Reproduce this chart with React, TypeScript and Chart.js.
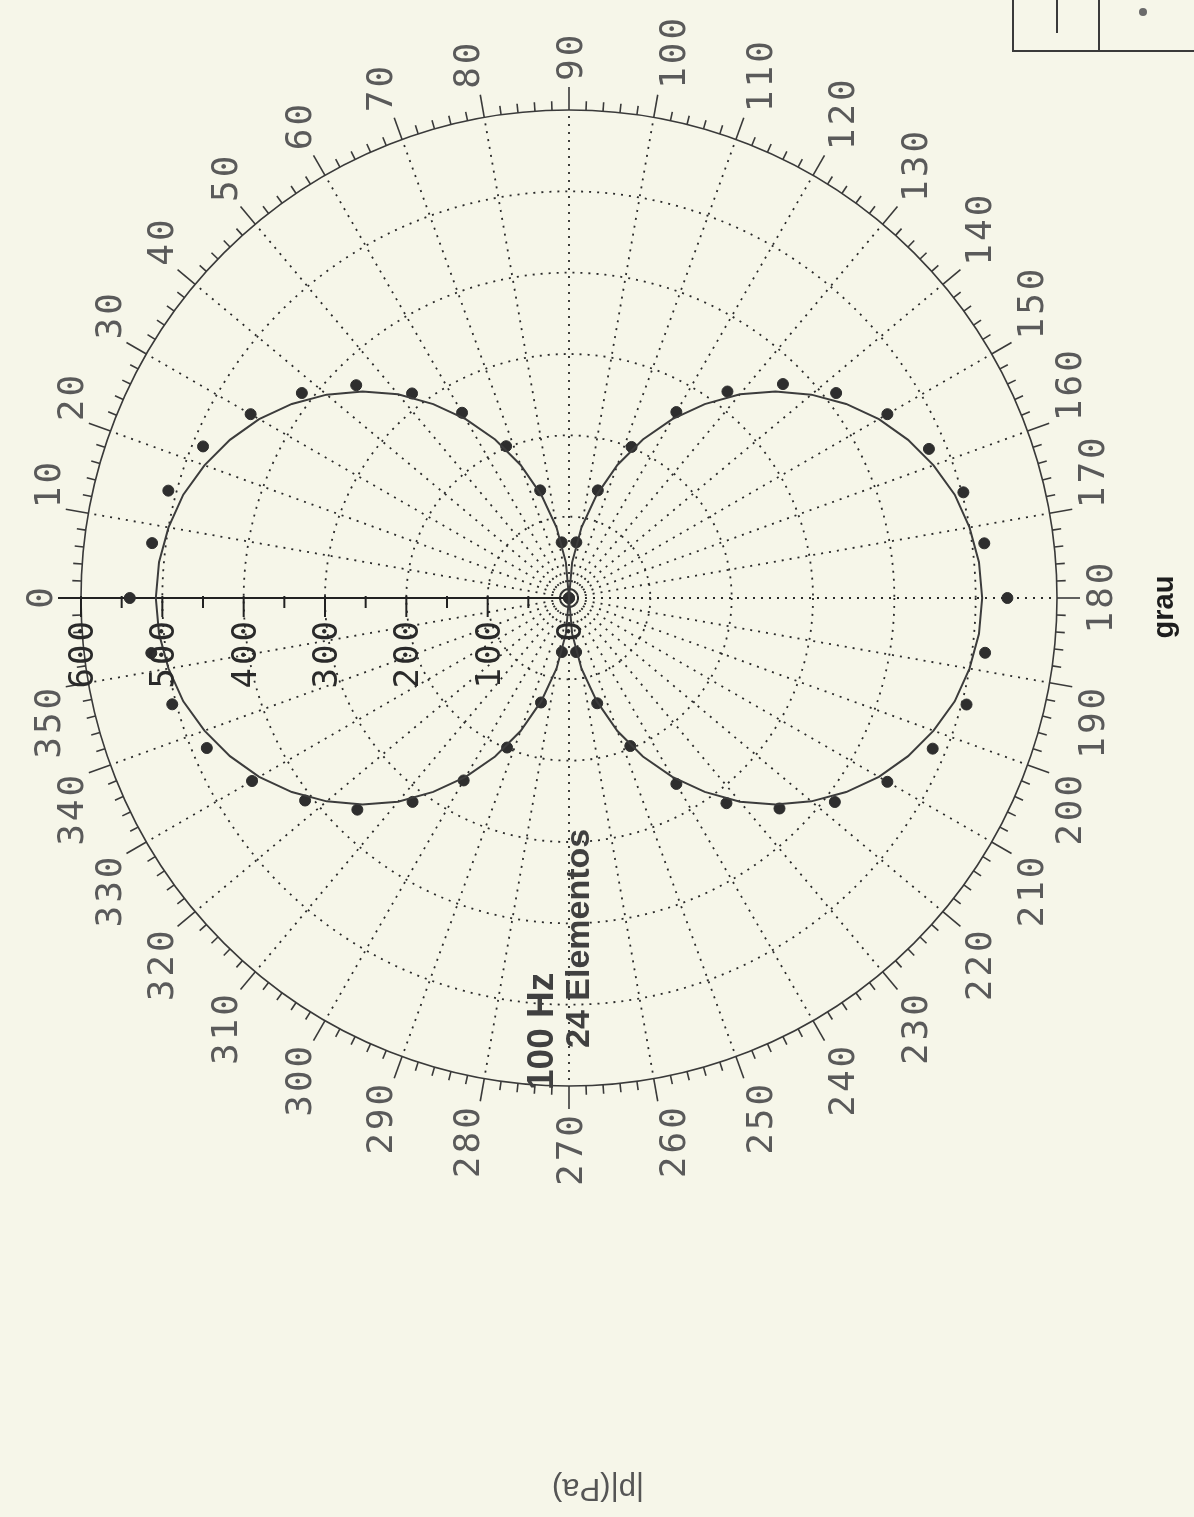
import { useEffect, useRef } from "react";
import { Chart, registerables } from "chart.js";

Chart.register(...registerables);

const PAGE_W = 1194;
const PAGE_H = 1517;

// Measured |p| (Pa), one reading every 7.5 degrees
const markerAngles = [
  0, 7.5, 15, 22.5, 30, 37.5, 45, 52.5, 60, 67.5, 75, 82.5,
  90, 97.5, 105, 112.5, 120, 127.5, 135, 142.5, 150, 157.5, 165, 172.5,
  180, 187.5, 195, 202.5, 210, 217.5, 225, 232.5, 240, 247.5, 255, 262.5,
  270, 277.5, 285, 292.5, 300, 307.5, 315, 322.5, 330, 337.5, 345, 352.5,
];
const markerValues = [
  540, 517, 510, 487, 452, 414, 370, 317, 263, 202, 137, 69,
  0, 69, 137, 201, 264, 320, 372, 414, 452, 479, 502, 515,
  539, 516, 506, 484, 452, 412, 366, 318, 264, 197, 134, 67,
  0, 67, 133, 199, 259, 316, 368, 409, 450, 482, 505, 518,
];

// Computed pattern, every 5 degrees
const curveAngles = [
  0, 5, 10, 15, 20, 25, 30, 35, 40, 45, 50, 55, 60, 65, 70, 75, 80, 85,
  90, 95, 100, 105, 110, 115, 120, 125, 130, 135, 140, 145, 150, 155, 160, 165, 170, 175,
  180, 185, 190, 195, 200, 205, 210, 215, 220, 225, 230, 235, 240, 245, 250, 255, 260, 265,
  270, 275, 280, 285, 290, 295, 300, 305, 310, 315, 320, 325, 330, 335, 340, 345, 350, 355,
  360,
];
const curveValues = [
  508, 506, 500, 491, 477, 460, 440, 416, 389, 359, 327, 291, 254, 215, 174, 131, 88, 44,
  0, 44, 88, 131, 174, 215, 254, 291, 327, 359, 389, 416, 440, 460, 477, 491, 500, 506,
  508, 506, 500, 491, 477, 460, 440, 416, 389, 359, 327, 291, 254, 215, 174, 131, 88, 44,
  0, 44, 88, 131, 174, 215, 254, 291, 327, 359, 389, 416, 440, 460, 477, 491, 500, 506,
  508,
];

const radialTicks = [0, 100, 200, 300, 400, 500, 600];
const radialLabels = ["0", "100", "200", "300", "400", "500", "600"];
const angleTicks = [
  0, 10, 20, 30, 40, 50, 60, 70, 80, 90, 100, 110, 120, 130, 140, 150, 160, 170,
  180, 190, 200, 210, 220, 230, 240, 250, 260, 270, 280, 290, 300, 310, 320, 330, 340, 350,
];
const infoLines = ["100 Hz", "24 Elementos"];
const angleTitle = "grau";
const radiusTitle = "|p|(Pa)";

const R_MAX = 600;
const BG = "#f6f6e9";
const INK = "#2e2e2e";
const LABEL_FONT = "'DejaVu Sans Mono', monospace";

const rad = (deg: number) => (deg * Math.PI) / 180;
// 0 deg points left, 90 deg up, angles grow clockwise on screen
const toPoint = (deg: number, value: number) => ({
  x: -value * Math.cos(rad(deg)),
  y: value * Math.sin(rad(deg)),
});

const polarFrame = {
  id: "polarFrame",
  beforeDraw(chart: any) {
    const ctx = chart.ctx as CanvasRenderingContext2D;
    ctx.save();
    ctx.fillStyle = BG;
    ctx.fillRect(0, 0, chart.width, chart.height);
    ctx.restore();
  },
  beforeDatasetsDraw(chart: any) {
    const ctx = chart.ctx as CanvasRenderingContext2D;
    const sx = chart.scales.x;
    const sy = chart.scales.y;
    const cx = sx.getPixelForValue(0);
    const cy = sy.getPixelForValue(0);
    const rp = (v: number) => sx.getPixelForValue(v) - cx;
    const at = (deg: number, r: number) => [cx - r * Math.cos(rad(deg)), cy - r * Math.sin(rad(deg))];
    const outer = rp(R_MAX);

    ctx.save();
    // dotted rings
    ctx.strokeStyle = "#2a2a2a";
    ctx.lineWidth = 1.8;
    ctx.setLineDash([2, 6]);
    for (const v of radialTicks) {
      if (v <= 0 || v >= R_MAX) continue;
      ctx.beginPath();
      ctx.arc(cx, cy, rp(v), 0, Math.PI * 2);
      ctx.stroke();
    }
    // dotted spokes
    for (const a of angleTicks) {
      if (a === 0) continue;
      const [x1, y1] = at(a, outer);
      ctx.beginPath();
      ctx.moveTo(cx, cy);
      ctx.lineTo(x1, y1);
      ctx.stroke();
    }
    ctx.setLineDash([]);

    // outer circle with degree ticks
    ctx.strokeStyle = "#3a3a3a";
    ctx.lineWidth = 1.6;
    ctx.beginPath();
    ctx.arc(cx, cy, outer, 0, Math.PI * 2);
    ctx.stroke();
    for (let a = 0; a < 360; a += 2) {
      const len = a % 10 === 0 ? 23 : 9;
      const [x0, y0] = at(a, outer);
      const [x1, y1] = at(a, outer + len);
      ctx.beginPath();
      ctx.moveTo(x0, y0);
      ctx.lineTo(x1, y1);
      ctx.stroke();
    }

    // radial axis along 0 deg
    ctx.strokeStyle = "#222";
    ctx.lineWidth = 2;
    const [ex, ey] = at(0, rp(R_MAX) + 23);
    ctx.beginPath();
    ctx.moveTo(cx, cy);
    ctx.lineTo(ex, ey);
    ctx.stroke();
    for (let i = 1; i < radialTicks.length; i++) {
      const major = radialTicks[i];
      const minor = (radialTicks[i] + radialTicks[i - 1]) / 2;
      for (const [v, len] of [[major, 19], [minor, 10]]) {
        const px = cx - rp(v);
        ctx.beginPath();
        ctx.moveTo(px, cy - 2);
        ctx.lineTo(px, cy + len);
        ctx.stroke();
      }
    }
    ctx.restore();
  },
  afterDatasetsDraw(chart: any) {
    const ctx = chart.ctx as CanvasRenderingContext2D;
    const sx = chart.scales.x;
    const sy = chart.scales.y;
    const cx = sx.getPixelForValue(0);
    const cy = sy.getPixelForValue(0);
    const rp = (v: number) => sx.getPixelForValue(v) - cx;
    const outer = rp(R_MAX);

    // the plot is laid on its side: text reads bottom-to-top
    ctx.save();
    ctx.translate(cx, cy);
    ctx.rotate(-Math.PI / 2);
    (ctx as any).letterSpacing = "3px";

    // angle labels, aligned the way a radial scale aligns its point labels
    const capH = 26;
    ctx.font = `36px ${LABEL_FONT}`;
    ctx.fillStyle = "#5a5a5a";
    ctx.textBaseline = "alphabetic";
    const rl = outer + 29;
    for (const a of angleTicks) {
      const s = Math.sin(rad(a));
      const c = Math.cos(rad(a));
      const txt = String(a);
      const w = ctx.measureText(txt).width - 3;
      const ax = rl * s;
      const ay = -rl * c;
      let left = ax;
      if (a === 0 || a === 180) left = ax - w / 2;
      else if (a > 180) left = ax - w;
      let top = ay;
      if (a === 90 || a === 270) top = ay - capH / 2;
      else if (a > 270 || a < 90) top = ay - capH;
      ctx.textAlign = "left";
      ctx.fillText(txt, left, top + capH);
    }

    // radial value labels beside the 0 deg axis
    ctx.font = `34px ${LABEL_FONT}`;
    ctx.fillStyle = "#2a2a2a";
    ctx.textAlign = "right";
    radialTicks.forEach((v, i) => {
      ctx.fillText(radialLabels[i], -20, -rp(v) + 12);
    });

    // annotation
    (ctx as any).letterSpacing = "0px";
    ctx.fillStyle = "#404040";
    ctx.textAlign = "left";
    ctx.font = "bold 37px 'Liberation Sans', Arial, sans-serif";
    ctx.fillText(infoLines[0], -492, -16);
    ctx.font = "bold 34px 'Liberation Sans', Arial, sans-serif";
    ctx.fillText(infoLines[1], -450, 20);

    // angle axis title
    ctx.font = "bold 29px 'Liberation Sans', Arial, sans-serif";
    ctx.fillStyle = "#1e1e1e";
    ctx.textAlign = "center";
    ctx.textBaseline = "middle";
    ctx.fillText(angleTitle, -9, 596);
    ctx.restore();

    // radius axis title, upside down at the foot of the page
    ctx.save();
    ctx.translate(598, 1488);
    ctx.rotate(Math.PI);
    ctx.font = "31px 'Liberation Sans', Arial, sans-serif";
    ctx.fillStyle = "#555";
    ctx.textAlign = "center";
    ctx.textBaseline = "middle";
    ctx.fillText(radiusTitle, 0, 0);
    ctx.restore();

    // legend box, partly off the page
    ctx.save();
    ctx.strokeStyle = "#3a3a3a";
    ctx.lineWidth = 2;
    ctx.strokeRect(1013, -10, 200, 61);
    ctx.beginPath();
    ctx.moveTo(1099, 0);
    ctx.lineTo(1099, 51);
    ctx.moveTo(1057, 0);
    ctx.lineTo(1057, 33);
    ctx.stroke();
    ctx.fillStyle = "#6a6a6a";
    ctx.beginPath();
    ctx.arc(1143, 12, 4, 0, Math.PI * 2);
    ctx.fill();
    ctx.restore();
  },
};

export default function App() {
  const canvasRef = useRef<HTMLCanvasElement | null>(null);

  useEffect(() => {
    const canvas = canvasRef.current;
    if (!canvas) return;
    const cx = 569;
    const cy = 598;
    const r = 488;
    const chart = new Chart(canvas, {
      type: "scatter",
      data: {
        datasets: [
          {
            label: "teórico",
            data: curveAngles.map((a, i) => toPoint(a, curveValues[i])),
            showLine: true,
            borderColor: "#3c3c3c",
            borderWidth: 2,
            pointRadius: 0,
            tension: 0,
          },
          {
            label: "medido",
            data: markerAngles.map((a, i) => toPoint(a, markerValues[i])),
            showLine: false,
            pointRadius: 5.5,
            pointBackgroundColor: INK,
            pointBorderColor: INK,
          },
        ],
      },
      options: {
        responsive: false,
        animation: false,
        devicePixelRatio: 1,
        layout: {
          padding: { left: cx - r, right: PAGE_W - (cx + r), top: cy - r, bottom: PAGE_H - (cy + r) },
        },
        scales: {
          x: { type: "linear", min: -R_MAX, max: R_MAX, display: false },
          y: { type: "linear", min: -R_MAX, max: R_MAX, display: false },
        },
        plugins: {
          legend: { display: false },
          tooltip: { enabled: false },
        },
      },
      plugins: [polarFrame],
    });
    return () => chart.destroy();
  }, []);

  return (
    <div
      style={{
        position: "fixed",
        left: 0,
        top: 0,
        width: PAGE_W,
        height: PAGE_H,
        background: BG,
        overflow: "hidden",
      }}
    >
      <canvas ref={canvasRef} width={PAGE_W} height={PAGE_H} style={{ display: "block" }} />
    </div>
  );
}
